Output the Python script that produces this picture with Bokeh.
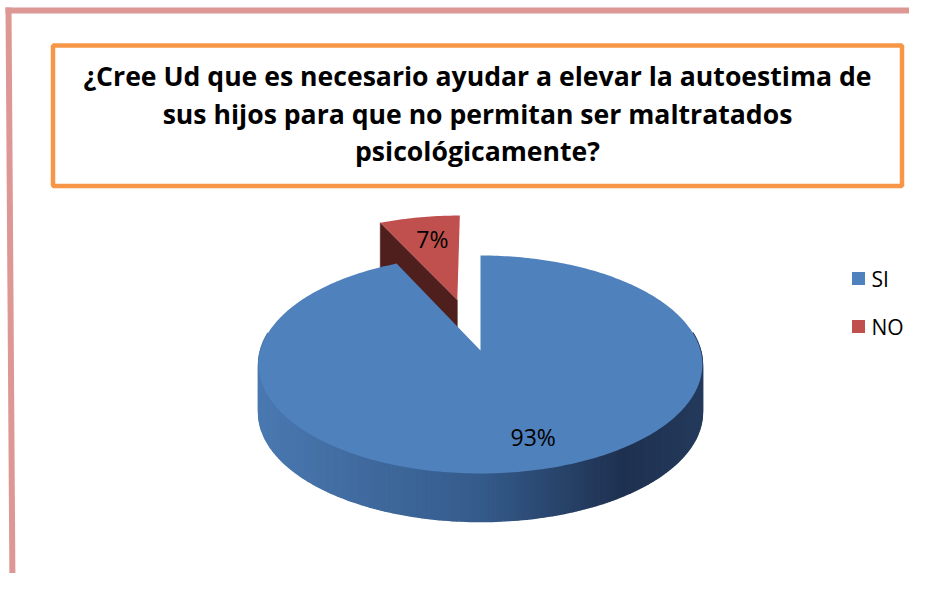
import numpy as np
from bokeh.plotting import figure
from bokeh.models import Range1d
from bokeh.core.properties import value
from bokeh.embed import file_html
from bokeh.resources import INLINE

# ---------------- data ----------------
title_lines = [
    "¿Cree Ud que es necesario ayudar a elevar la autoestima de",
    "sus hijos para que no permitan ser maltratados",
    "psicológicamente?",
]
categories = ["SI", "NO"]
percentages = [93, 7]
slice_colors = ["#4F81BD", "#C0504D"]
wall_colors = ["#3A5F8C", "#4F1F1E"]
explode = [0.0, 0.514]

# ---------------- layout constants (page pixels) ----------------
W, H = 909, 573
CX, CY0 = 480.0, 350.0      # projected pie centre
A, B = 220.0, 107.2         # horizontal / depth radii
K = 0.1284                  # perspective factor
DEPTH = 48.0                # pie thickness
LABEL_R = [0.76, 0.71]
LABEL_DA = [-4.0, 1.2]

p = figure(width=W, height=H, x_range=Range1d(0, W), y_range=Range1d(H, 0),
           output_backend="svg", toolbar_location=None, min_border=0,
           x_axis_location=None, y_axis_location=None)
p.grid.visible = False
p.outline_line_color = None
p.background_fill_color = "white"
p.border_fill_color = "white"

# page frame (pink) and title box (orange)
PINK = "#DD9795"
p.quad(left=[5], right=[925], top=[7], bottom=[13], fill_color=PINK, line_color=None)
p.patch(x=[5, 11, 15, 9], y=[7, 7, 589, 589], fill_color=PINK, line_color=None)
p.quad(left=[52.5], right=[901.5], top=[45], bottom=[185.5], fill_color=None,
       line_color="#F79646", line_width=4.5)

title_y = [75, 113, 150.5]
p.text(x=[477] * 3, y=title_y, text=title_lines, text_align="center",
       text_baseline="middle", text_font=value("Open Sans"), text_font_style="bold",
       text_font_size="26.6px", text_color="black")


def proj(u, v, h=0.0):
    s = 1.0 / (1.0 - K * v)
    return CX + A * u * s, CY0 + B * v * s + h * DEPTH


def lerp_hex(c1, c2, t):
    a = np.array([int(c1[i:i + 2], 16) for i in (1, 3, 5)], float)
    b = np.array([int(c2[i:i + 2], 16) for i in (1, 3, 5)], float)
    c = a + (b - a) * t
    return "#%02x%02x%02x" % tuple(int(round(x)) for x in c)


side_stops = [(0.0, "#4A78B0"), (0.5, "#355B8B"), (0.82, "#1F3150"), (1.0, "#243A5C")]


def side_color(frac):
    frac = min(max(frac, 0.0), 1.0)
    for (f1, c1), (f2, c2) in zip(side_stops[:-1], side_stops[1:]):
        if frac <= f2:
            return lerp_hex(c1, c2, (frac - f1) / (f2 - f1))
    return side_stops[-1][1]


total = float(sum(percentages))
starts = np.cumsum([0] + percentages[:-1]) / total * 360.0
ends = np.cumsum(percentages) / total * 360.0

# draw the exploded (back) slices first, then the main slice
order = sorted(range(len(categories)), key=lambda i: -explode[i])
label_pos = []
for i in order:
    s, e = starts[i], ends[i]
    m = np.radians((s + e) / 2)
    ou, ov = explode[i] * np.sin(m), -explode[i] * np.cos(m)
    th = np.radians(np.linspace(s, e, max(int(e - s), 2) + 1))
    us, vs = ou + np.sin(th), ov - np.cos(th)

    # radial walls facing the viewer
    for ang, sign in ((s, -1), (e, 1)):
        na = np.radians(ang + sign * 90)
        if -np.cos(na) > 0.05:
            a = np.radians(ang)
            pu, pv = ou + np.sin(a), ov - np.cos(a)
            x1, y1 = proj(ou, ov)
            x2, y2 = proj(pu, pv)
            x3, y3 = proj(pu, pv, 1)
            x4, y4 = proj(ou, ov, 1)
            p.patch(x=[x1, x2, x3, x4], y=[y1, y2, y3, y4],
                    fill_color=wall_colors[i], line_color=wall_colors[i], line_width=0.5)

    # outer curved wall (front part only)
    xs_l, ys_l, cols = [], [], []
    for j in range(len(th) - 1):
        a0, a1 = np.degrees(th[j]), np.degrees(th[j + 1])
        if 80 <= (a0 + a1) / 2 <= 280:
            xa, ya = proj(us[j], vs[j])
            xb, yb = proj(us[j + 1], vs[j + 1])
            xc, yc = proj(us[j + 1], vs[j + 1], 1)
            xd, yd = proj(us[j], vs[j], 1)
            xs_l.append([xa, xb, xc, xd])
            ys_l.append([ya, yb, yc, yd])
            cols.append(side_color(((xa + xb) / 2 - (CX - A)) / (2 * A)))
    if xs_l:
        p.patches(xs=xs_l, ys=ys_l, fill_color=cols, line_color=cols, line_width=1.6)

    # top face
    tx, ty = proj(np.concatenate([[ou], us]), np.concatenate([[ov], vs]))
    p.patch(x=list(tx), y=list(ty), fill_color=slice_colors[i], line_color=None)

    la = m + np.radians(LABEL_DA[i])
    lu = ou + LABEL_R[i] * np.sin(la)
    lv = ov - LABEL_R[i] * np.cos(la)
    label_pos.append((i, *proj(lu, lv)))

label_pos.sort()
p.text(x=[q[1] for q in label_pos], y=[q[2] for q in label_pos],
       text=["%d%%" % percentages[q[0]] for q in label_pos],
       text_align="center", text_baseline="middle", text_font=value("Open Sans"),
       text_font_size="23px", text_color="black")

# legend
leg_y = [278, 326]
p.scatter(x=[858] * len(categories), y=leg_y, marker="square", size=13,
          fill_color=slice_colors, line_color=None)
p.text(x=[871] * len(categories), y=leg_y, text=categories, text_align="left",
       text_baseline="middle", text_font=value("Open Sans"), text_font_size="21px",
       text_color="black")

open("out.html", "w").write(file_html(p, INLINE))
